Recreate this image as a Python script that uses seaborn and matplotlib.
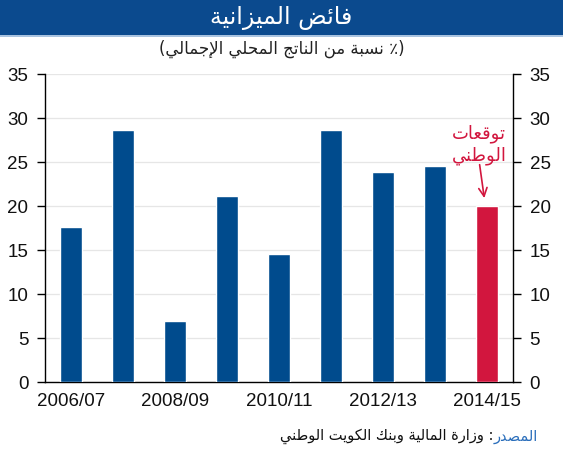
import seaborn as sns
import matplotlib.pyplot as plt
import pandas as pd
from matplotlib.patches import Rectangle

# --- datos ---
years = ["2006/07", "2007/08", "2008/09", "2009/10", "2010/11",
         "2011/12", "2012/13", "2013/14", "2014/15"]
surplus = [17.6, 28.6, 6.9, 21.1, 14.6, 28.6, 23.9, 24.6, 20.0]
forecast = [False, False, False, False, False, False, False, False, True]
shown_labels = ["2006/07", "2008/09", "2010/11", "2012/13", "2014/15"]

title = "فائض الميزانية"
subtitle = "(٪ نسبة من الناتج المحلي الإجمالي)"
note = "توقعات\nالوطني"
source_head = "المصدر"
source_body = "وزارة المالية وبنك الكويت الوطني"

BLUE = "#004B8D"
RED = "#D2163E"

# --- forma arabe (matplotlib no hace shaping ni bidi) ---
DUAL = {'ئ': 0xFE89, 'ب': 0xFE8F, 'ت': 0xFE95, 'ث': 0xFE99, 'ج': 0xFE9D,
        'ح': 0xFEA1, 'خ': 0xFEA5, 'س': 0xFEB1, 'ش': 0xFEB5, 'ص': 0xFEB9,
        'ض': 0xFEBD, 'ط': 0xFEC1, 'ظ': 0xFEC5, 'ع': 0xFEC9, 'غ': 0xFECD,
        'ف': 0xFED1, 'ق': 0xFED5, 'ك': 0xFED9, 'ل': 0xFEDD, 'م': 0xFEE1,
        'ن': 0xFEE5, 'ه': 0xFEE9, 'ي': 0xFEF1}
RIGHT = {'آ': 0xFE81, 'أ': 0xFE83, 'ؤ': 0xFE85, 'إ': 0xFE87, 'ا': 0xFE8D,
         'ة': 0xFE93, 'د': 0xFEA9, 'ذ': 0xFEAB, 'ر': 0xFEAD, 'ز': 0xFEAF,
         'و': 0xFEED, 'ى': 0xFEEF}
LAM_ALEF = {'آ': 0xFEF5, 'أ': 0xFEF7, 'إ': 0xFEF9, 'ا': 0xFEFB}


def shape_line(s):
    toks = []
    i = 0
    while i < len(s):
        c = s[i]
        if c == 'ل' and i + 1 < len(s) and s[i + 1] in LAM_ALEF:
            toks.append(('R', LAM_ALEF[s[i + 1]]))
            i += 2
            continue
        if c in DUAL:
            toks.append(('D', DUAL[c]))
        elif c in RIGHT:
            toks.append(('R', RIGHT[c]))
        else:
            toks.append(('N', c))
        i += 1
    out = []
    for k, (kind, v) in enumerate(toks):
        if kind == 'N':
            out.append(v)
            continue
        prev = k > 0 and toks[k - 1][0] == 'D'
        nxt = kind == 'D' and k + 1 < len(toks) and toks[k + 1][0] in 'DR'
        if kind == 'R':
            off = 1 if prev else 0
        else:
            off = {(False, False): 0, (True, False): 1,
                   (False, True): 2, (True, True): 3}[(prev, nxt)]
        out.append(chr(v + off))
    vis = ''.join(out)[::-1]
    return vis.translate(str.maketrans('()', ')('))


def ar(s):
    return "\n".join(shape_line(line) for line in s.split("\n"))


sns.set_theme(style="white")
plt.rcParams['font.family'] = ['Liberation Sans', 'DejaVu Sans']

df = pd.DataFrame({"year": years, "surplus": surplus, "forecast": forecast})

fig = plt.figure(figsize=(5.63, 4.5), dpi=100)
ax = fig.add_axes([0.080, 0.151, 0.831, 0.6845])

sns.barplot(data=df, x="year", y="surplus", hue="year",
            palette=[RED if f else BLUE for f in forecast],
            width=0.41, legend=False, saturation=1, ax=ax, zorder=3)

ax.set_ylim(0, 35)
ax.set_xlim(-0.5, len(years) - 0.5)
ax.set_yticks(range(0, 36, 5))
ax.yaxis.grid(True, color="#E6E6E6", lw=0.9, zorder=0)
ax.set_xlabel("")
ax.set_ylabel("")

# etiquetas x cada dos años, marcas entre categorias
ax.set_xticks([years.index(l) for l in shown_labels])
ax.set_xticklabels(shown_labels)
ax.set_xticks([i - 0.5 for i in range(len(years) + 1)], minor=True)
ax.tick_params(axis="x", which="major", length=0, labelsize=13.5, pad=8, colors="#111111")
ax.tick_params(axis="x", which="minor", direction="inout", length=9, width=1, color="black")
ax.tick_params(axis="y", which="major", left=True, right=True, labelleft=True,
               labelright=True, direction="out", length=6, width=1,
               color="black", labelsize=13.5, labelcolor="#111111", pad=6)

for side in ["left", "right", "bottom"]:
    ax.spines[side].set_color("black")
    ax.spines[side].set_linewidth(1)
ax.spines["top"].set_visible(False)

# anotacion de prevision
n = len(years) - 1
ax.text(n - 0.15, surplus[n] + 7.0, ar(note), color=RED, fontsize=13,
        ha="center", va="center", family=["DejaVu Sans"], linespacing=1.25)
ax.annotate("", xy=(n - 0.05, surplus[n] + 0.9), xytext=(n - 0.14, surplus[n] + 4.7),
            arrowprops=dict(arrowstyle="->", color=RED, lw=1.2, mutation_scale=15,
                            shrinkA=0, shrinkB=0))

# barra de titulo
fig.patches.append(Rectangle((0, 0.922), 1, 0.078, transform=fig.transFigure,
                             facecolor="#0B4A8E", edgecolor="none", zorder=0))
fig.patches.append(Rectangle((0, 0.918), 1, 0.004, transform=fig.transFigure,
                             facecolor="#A9C3E0", edgecolor="none", zorder=0))
fig.text(0.5, 0.961, ar(title), color="white", fontsize=17, ha="center",
         va="center", family=["DejaVu Sans"])
fig.text(0.5, 0.891, ar(subtitle), color="#222222", fontsize=12, ha="center",
         va="center", family=["DejaVu Sans"])

# fuente
t1 = fig.text(0.955, 0.020, ar(source_head), color="#2A6EBB", fontsize=10.5,
              ha="right", va="baseline", family=["DejaVu Sans"])
ax.annotate(ar(source_body) + " :", xy=(0, 0), xycoords=t1, ha="right",
            va="bottom", color="#111111", fontsize=10.5, family=["DejaVu Sans"],
            annotation_clip=False)

fig.savefig("out.png", dpi=100)
